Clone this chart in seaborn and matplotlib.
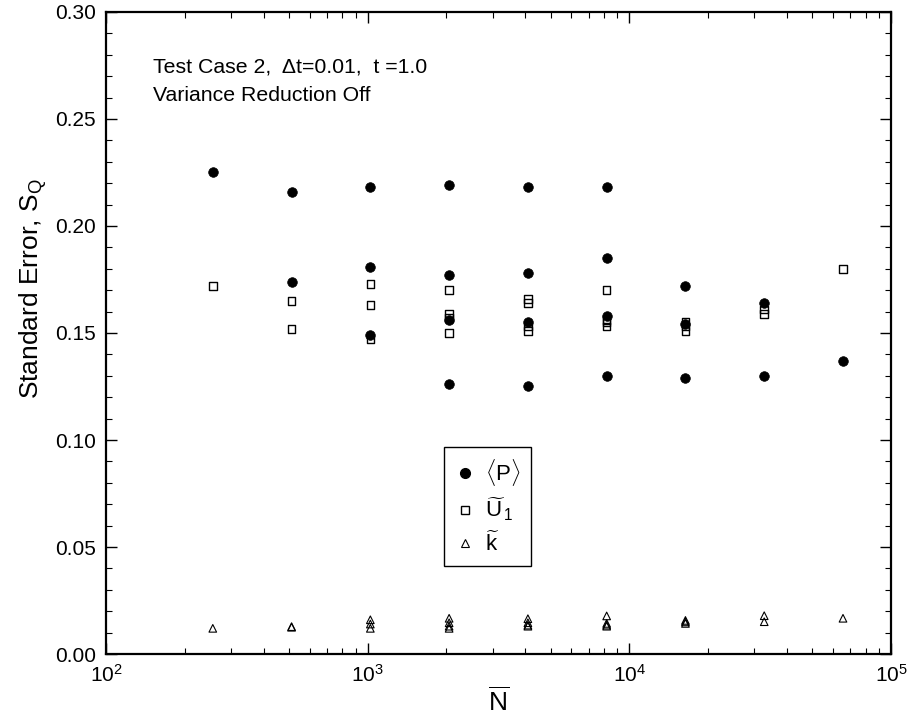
import numpy as np
import pandas as pd
import matplotlib
matplotlib.use("Agg")
import matplotlib.pyplot as plt
from matplotlib.ticker import MultipleLocator, LogLocator, NullFormatter
from matplotlib.lines import Line2D
import seaborn as sns

# ---------------- data ----------------
N_P = [256, 512, 512, 1024, 1024, 1024, 2048, 2048, 2048, 2048,
       4096, 4096, 4096, 4096, 8192, 8192, 8192, 8192,
       16384, 16384, 16384, 32768, 32768, 65536]
P_vals = [0.225, 0.216, 0.174, 0.218, 0.181, 0.149, 0.219, 0.177, 0.156, 0.126,
          0.218, 0.178, 0.155, 0.125, 0.218, 0.185, 0.158, 0.130,
          0.172, 0.154, 0.129, 0.164, 0.130, 0.137]

N_U = [256, 512, 512, 1024, 1024, 1024, 2048, 2048, 2048, 2048,
       4096, 4096, 4096, 4096, 8192, 8192, 8192, 8192,
       16384, 16384, 16384, 32768, 32768, 65536]
U_vals = [0.172, 0.165, 0.152, 0.173, 0.163, 0.147, 0.170, 0.159, 0.157, 0.150,
          0.166, 0.164, 0.153, 0.151, 0.170, 0.156, 0.155, 0.153,
          0.155, 0.153, 0.151, 0.161, 0.159, 0.180]

N_k = [256, 512, 512, 1024, 1024, 1024, 2048, 2048, 2048, 2048,
       4096, 4096, 4096, 4096, 8192, 8192, 8192, 8192,
       16384, 16384, 16384, 32768, 32768, 65536]
k_vals = [0.012, 0.0128, 0.0125, 0.016, 0.014, 0.012, 0.0167, 0.0146, 0.013, 0.012,
          0.0165, 0.0146, 0.0135, 0.013, 0.0178, 0.0143, 0.013, 0.0135,
          0.0157, 0.0143, 0.015, 0.0179, 0.0151, 0.0167]

legend_labels = [r"$\langle\mathrm{P}\rangle$",
                 r"$\widetilde{\mathrm{U}}_{\,1}$",
                 r"$\widetilde{\mathrm{k}}$"]

df_P = pd.DataFrame({"N": N_P, "S": P_vals})
df_U = pd.DataFrame({"N": N_U, "S": U_vals})
df_k = pd.DataFrame({"N": N_k, "S": k_vals})

# ---------------- style ----------------
sns.set_style("ticks")
plt.rcParams["font.family"] = ["Liberation Sans", "DejaVu Sans"]
plt.rcParams["mathtext.fontset"] = "custom"
plt.rcParams["mathtext.rm"] = "Liberation Sans"
plt.rcParams["mathtext.it"] = "Liberation Sans:italic"
plt.rcParams["mathtext.bf"] = "Liberation Sans:bold"
plt.rcParams["text.color"] = "black"
plt.rcParams["axes.labelcolor"] = "black"
plt.rcParams["xtick.color"] = "black"
plt.rcParams["ytick.color"] = "black"
plt.rcParams["xtick.labelcolor"] = "black"
plt.rcParams["ytick.labelcolor"] = "black"
plt.rcParams["axes.edgecolor"] = "black"

fig = plt.figure(figsize=(9.08, 7.21), dpi=100)
ax = fig.add_axes([0.1167, 0.0929, 0.8646, 0.8905])

sns.scatterplot(data=df_P, x="N", y="S", ax=ax, marker="o", s=48,
                color="black", edgecolor="black", linewidth=0.5, zorder=3)
sns.scatterplot(data=df_U, x="N", y="S", ax=ax, marker="s", s=30,
                facecolor="none", edgecolor="black", linewidth=1.0, zorder=2)
sns.scatterplot(data=df_k, x="N", y="S", ax=ax, marker="^", s=30,
                facecolor="none", edgecolor="black", linewidth=0.8, zorder=2)

ax.set_xscale("log")
ax.set_xlim(1e2, 1e5)
ax.set_ylim(0.0, 0.30)
ax.yaxis.set_major_locator(MultipleLocator(0.05))
ax.yaxis.set_minor_locator(MultipleLocator(0.01))
ax.xaxis.set_major_locator(LogLocator(base=10))
ax.xaxis.set_minor_locator(LogLocator(base=10, subs=np.arange(2, 10)))
ax.xaxis.set_minor_formatter(NullFormatter())
ax.yaxis.set_major_formatter(matplotlib.ticker.FormatStrFormatter("%.2f"))

for sp in ax.spines.values():
    sp.set_visible(True)
    sp.set_linewidth(1.6)
    sp.set_color("black")

ax.tick_params(axis="both", which="major", direction="in", length=8, width=1.0,
               top=True, right=True, labelsize=15, pad=7, colors="black")
ax.tick_params(axis="both", which="minor", direction="in", length=4, width=0.8,
               top=True, right=True, colors="black")

ax.set_xlabel(r"$\overline{\mathrm{N}}$", fontsize=19, labelpad=1, color="black")
ax.set_ylabel(r"Standard Error, S$_{\mathrm{Q}}$", fontsize=19, color="black")
ax.yaxis.set_label_coords(-0.072, 0.57)

ax.text(0.060, 0.905, "Test Case 2,  \u0394t=0.01,  t =1.0", transform=ax.transAxes,
        fontsize=15.3, va="baseline", ha="left", color="black")
ax.text(0.060, 0.8614, "Variance Reduction Off", transform=ax.transAxes,
        fontsize=15.3, va="baseline", ha="left", color="black")

handles = [
    Line2D([], [], linestyle="none", marker="o", markersize=7,
           markerfacecolor="black", markeredgecolor="black"),
    Line2D([], [], linestyle="none", marker="s", markersize=5.5,
           markerfacecolor="none", markeredgecolor="black", markeredgewidth=1.0),
    Line2D([], [], linestyle="none", marker="^", markersize=5.5,
           markerfacecolor="none", markeredgecolor="black", markeredgewidth=0.8),
]
leg = ax.legend(handles, legend_labels, loc="upper left",
                bbox_to_anchor=(0.4306, 0.3224), borderaxespad=0,
                fontsize=16, frameon=True, labelcolor="black",
                fancybox=False, edgecolor="black", framealpha=1,
                handletextpad=0.4, labelspacing=0.35, borderpad=0.45,
                handlelength=1.0)
leg.get_frame().set_linewidth(1.0)

fig.savefig("out.png", dpi=100)
